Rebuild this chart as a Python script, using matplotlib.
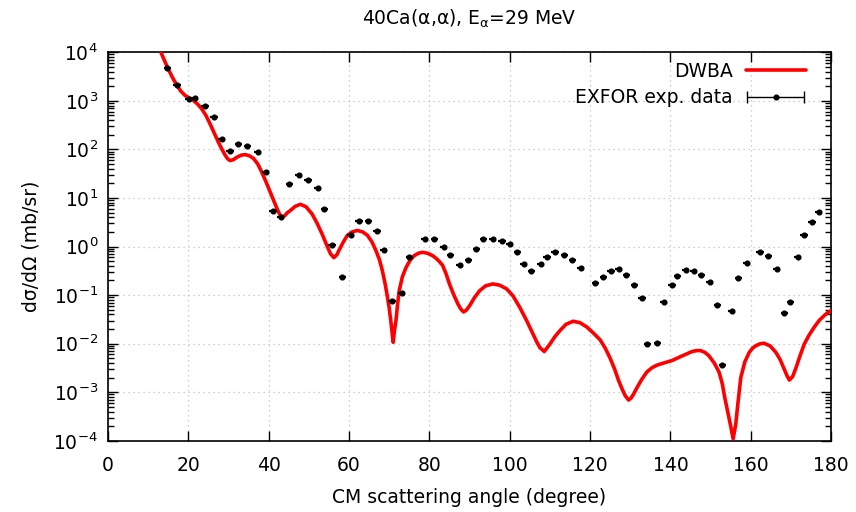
import numpy as np
import matplotlib
matplotlib.use("Agg")
import matplotlib.pyplot as plt
from matplotlib.ticker import LogLocator, LogFormatterMathtext, NullFormatter
from matplotlib.legend_handler import HandlerErrorbar

# DWBA curve (angle in degrees, cross section in mb/sr)
dwba_angle = [12.8, 13.2, 14.1, 15.0, 16.0, 17.1, 18.1, 19.2, 20.2, 21.25, 22.3, 23.3,
              24.4, 25.4, 26.5, 27.5, 28.4, 29.2, 29.8, 30.4, 31.2, 32.1, 33.2, 34.2,
              35.2, 36.25, 37.3, 38.3, 39.4, 40.4, 41.3, 42.1, 42.7, 43.3, 44.0, 44.7,
              45.4, 46.6, 47.9, 49.3, 50.8, 52.0, 53.3, 54.4, 55.4, 56.25, 57.0, 57.5,
              58.5, 59.6, 60.8, 62.1, 63.4, 64.6, 65.7, 66.7, 67.6, 68.3, 69.0, 69.6,
              70.0, 70.4, 70.7, 71.0, 71.3, 71.7, 72.1, 72.5, 73.3, 74.2, 75.2, 76.25,
              77.3, 78.3, 79.5, 80.8, 81.7, 82.5, 83.3, 84.2, 85.0, 86.0, 87.1, 87.8,
              88.5, 89.2, 90.0, 91.2, 92.5, 94.0, 95.8, 97.5, 99.2, 100.8, 102.5, 104.2,
              105.8, 106.7, 107.5, 108.6, 109.2, 110.0, 111.2, 112.5, 114.0, 115.8, 117.5, 119.2,
              121.0, 122.5, 123.8, 125.0, 126.1, 127.1, 128.0, 128.75, 129.6, 130.2, 130.8, 131.8,
              132.9, 134.1, 135.4, 136.6, 137.9, 140.4, 142.9, 145.4, 146.5, 147.5, 148.6, 149.6,
              150.9, 152.1, 152.9, 153.5, 154.3, 155.0, 155.6, 156.25, 156.8, 157.5, 158.5, 159.6,
              160.5, 161.5, 162.4, 163.3, 164.8, 166.25, 167.3, 168.3, 169.0, 169.6, 170.4, 171.25,
              172.2, 173.3, 174.5, 175.8, 177.0, 178.3, 179.2, 180.0]
dwba_xs = [13000, 10000, 6700, 4570, 3100, 2140, 1600, 1290, 1150, 1020, 860, 692,
           500, 339, 215, 141, 100, 76, 64, 59, 61, 69, 76, 78,
           74, 65, 50, 34, 21, 13.2, 8.8, 6.0, 4.7, 4.0, 4.3, 5.0,
           5.5, 6.7, 7.4, 6.6, 4.7, 3.1, 1.82, 1.1, 0.71, 0.59, 0.68, 0.83,
           1.2, 1.70, 2.0, 2.14, 2.0, 1.70, 1.25, 0.83, 0.53, 0.32, 0.17, 0.089,
           0.055, 0.030, 0.018, 0.0107, 0.018, 0.030, 0.065, 0.123, 0.24, 0.37, 0.52, 0.65,
           0.73, 0.76, 0.73, 0.65, 0.57, 0.49, 0.41, 0.27, 0.17, 0.105, 0.066, 0.052,
           0.045, 0.049, 0.060, 0.088, 0.123, 0.155, 0.17, 0.16, 0.135, 0.097, 0.056, 0.030,
           0.0158, 0.011, 0.0083, 0.0069, 0.0080, 0.0098, 0.0138, 0.0186, 0.025, 0.029, 0.027, 0.022,
           0.016, 0.012, 0.0080, 0.0050, 0.0030, 0.00174, 0.00115, 0.00085, 0.00069, 0.00076, 0.00091, 0.00130,
           0.00186, 0.0026, 0.0032, 0.0036, 0.0039, 0.0045, 0.0056, 0.0069, 0.0072, 0.0072, 0.0066, 0.0056,
           0.0040, 0.0026, 0.0015, 0.00079, 0.00038, 0.0002, 0.00011, 0.00022, 0.0006, 0.0020, 0.0042, 0.0066,
           0.0082, 0.0093, 0.0100, 0.0102, 0.0090, 0.0066, 0.0047, 0.0030, 0.0022, 0.00178, 0.0021, 0.0032,
           0.0055, 0.0098, 0.015, 0.022, 0.030, 0.038, 0.044, 0.048]

# EXFOR experimental data
exp_angle = [14.8, 17.2, 20.2, 21.6, 24.2, 26.4, 28.3, 30.4, 32.5, 34.75, 37.25, 39.3,
             41.1, 43.0, 45.2, 47.5, 49.8, 52.2, 53.9, 55.8, 58.3, 60.4, 62.5, 64.8,
             67.0, 68.6, 70.7, 73.1, 75.0, 78.8, 81.25, 83.6, 85.2, 87.6, 89.7, 91.7,
             93.4, 95.8, 98.1, 100.0, 101.9, 103.5, 105.4, 107.75, 109.3, 111.3, 113.6, 115.6,
             117.7, 121.3, 123.3, 125.2, 127.1, 129.0, 131.0, 132.9, 134.2, 136.7, 138.3, 140.4,
             141.7, 143.75, 145.8, 147.7, 149.75, 151.7, 152.9, 155.2, 156.9, 159.0, 162.3, 164.4,
             166.4, 168.3, 169.8, 171.7, 173.25, 175.25, 176.9]
exp_xs = [4800, 2150, 1110, 1140, 770, 464, 161, 94, 127, 119, 88, 34,
          5.5, 4.0, 19.6, 29.6, 23, 16, 5.9, 1.06, 0.24, 1.69, 3.4, 3.4,
          2.1, 0.855, 0.077, 0.109, 0.6, 1.46, 1.46, 0.98, 0.67, 0.42, 0.52, 0.91,
          1.46, 1.46, 1.33, 1.15, 0.79, 0.44, 0.32, 0.44, 0.60, 0.76, 0.68, 0.53,
          0.36, 0.178, 0.233, 0.316, 0.34, 0.26, 0.164, 0.086, 0.0098, 0.0105, 0.071, 0.164,
          0.244, 0.325, 0.31, 0.26, 0.19, 0.064, 0.0036, 0.048, 0.226, 0.46, 0.76, 0.63,
          0.34, 0.0435, 0.071, 0.61, 1.74, 3.27, 5.1]
exp_xerr = 0.9

x_ticks = [0, 20, 40, 60, 80, 100, 120, 140, 160, 180]

FS = 13.5
plt.rcParams['font.family'] = ['DejaVu Sans']
plt.rcParams['font.size'] = FS

fig = plt.figure(figsize=(8.56, 5.12), dpi=100)
ax = fig.add_axes([0.126, 0.139, 0.845, 0.759])

line, = ax.plot(dwba_angle, dwba_xs, color='#ff0000', lw=2.6, solid_joinstyle='round',
                solid_capstyle='round', label='DWBA', zorder=3)
ax.errorbar(exp_angle, exp_xs, xerr=exp_xerr, fmt='o', color='black', ms=3.4,
            elinewidth=1.6, capsize=0, zorder=4)
proxy = ax.errorbar([np.nan], [np.nan], xerr=[1.0], fmt='o', color='black', ms=3.4,
                    elinewidth=1.0, capsize=4, capthick=1.0)

ax.set_yscale('log')
ax.set_xlim(0, 180)
ax.set_ylim(1e-4, 1e4)
ax.set_xticks(x_ticks)
ax.yaxis.set_major_locator(LogLocator(base=10, numticks=20))
ax.yaxis.set_major_formatter(LogFormatterMathtext())
ax.yaxis.set_minor_locator(LogLocator(base=10, subs=np.arange(2, 10), numticks=20))
ax.yaxis.set_minor_formatter(NullFormatter())

ax.tick_params(which='both', direction='in', top=True, right=True, width=1.0)
ax.tick_params(which='major', length=7, labelsize=FS)
ax.tick_params(axis='x', which='major', pad=11)
ax.tick_params(axis='y', which='major', pad=7)
ax.tick_params(which='minor', length=4)

ax.grid(True, which='major', color='#c0c0c0', linestyle=(0, (1, 3)), lw=0.9)
ax.set_axisbelow(True)
for s in ax.spines.values():
    s.set_linewidth(1.2)

ax.set_xlabel('CM scattering angle (degree)', fontsize=FS, labelpad=9)
ax.set_ylabel('dσ/dΩ (mb/sr)', fontsize=FS, labelpad=9)
ax.set_title('40Ca(α,α), E$_\\mathregular{α}$=29 MeV', fontsize=FS, pad=20)

hl = 3.2
leg = ax.legend([line, proxy], ['DWBA', 'EXFOR exp. data'], loc='upper right',
                bbox_to_anchor=(0.965, 0.975), frameon=False, markerfirst=False,
                handlelength=hl, handletextpad=0.7, borderaxespad=0, borderpad=0,
                labelspacing=0.4, fontsize=FS,
                handler_map={type(proxy): HandlerErrorbar(xerr_size=hl / 2 * 0.95)})

fig.savefig('out.png', dpi=100)
